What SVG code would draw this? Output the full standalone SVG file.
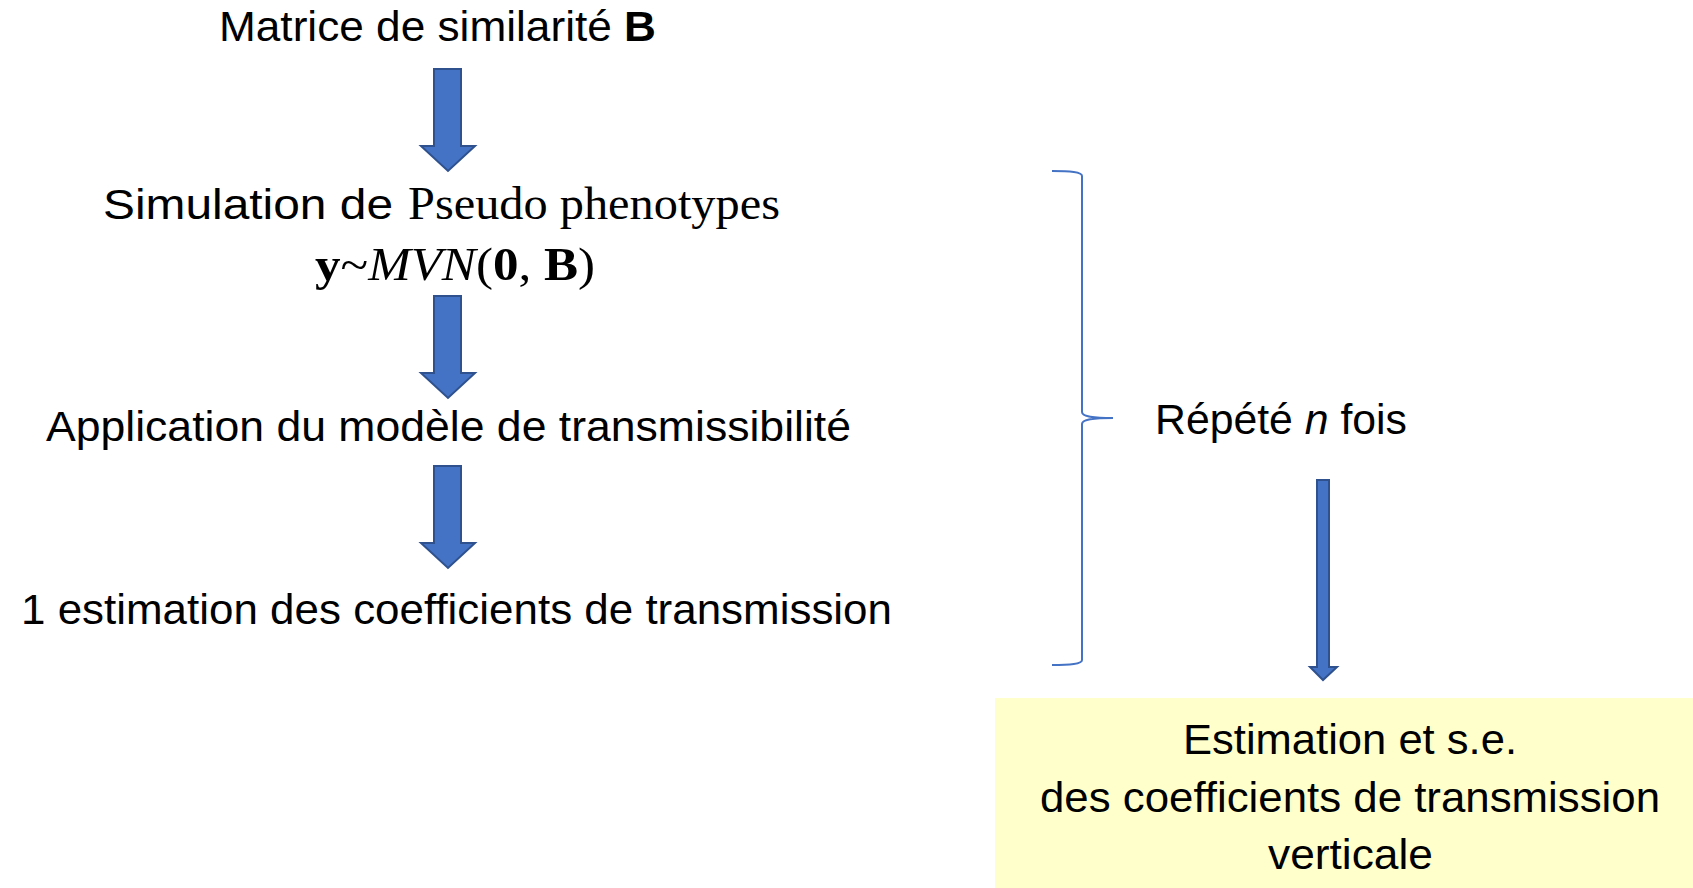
<svg xmlns="http://www.w3.org/2000/svg" width="1693" height="888" viewBox="0 0 1693 888">
<style>
.t{font-family:"Liberation Sans",Arial,sans-serif;font-size:43px;fill:#000}
.m{font-family:"Liberation Serif","Times New Roman",serif;font-size:47px;fill:#000}
.arr{fill:#4472C4;stroke:#2F528F;stroke-width:2}
.brace{fill:none;stroke:#4472C4;stroke-width:2}
</style>
<rect width="1693" height="888" fill="#fff"/>
<g id="n1"><text class="t" x="219" y="41" textLength="437" lengthAdjust="spacingAndGlyphs">Matrice de similarité <tspan font-weight="bold">B</tspan></text></g>
<g id="n2">
<text class="t" x="103" y="219" textLength="290" lengthAdjust="spacingAndGlyphs">Simulation de</text>
<text class="m" x="408" y="219" textLength="372" lengthAdjust="spacingAndGlyphs">Pseudo phenotypes</text>
<text class="m" x="315" y="280" textLength="280" lengthAdjust="spacingAndGlyphs"><tspan font-weight="bold">y</tspan>~<tspan font-style="italic">MVN</tspan>(<tspan font-weight="bold">0</tspan>, <tspan font-weight="bold">B</tspan>)</text>
</g>
<g id="n3"><text class="t" x="46" y="441" textLength="805" lengthAdjust="spacingAndGlyphs">Application du modèle de transmissibilité</text></g>
<g id="n4"><text class="t" x="21" y="624" textLength="871" lengthAdjust="spacingAndGlyphs">1 estimation des coefficients de transmission</text></g>
<g id="n5"><text class="t" x="1155" y="434" textLength="252" lengthAdjust="spacingAndGlyphs">Répété <tspan font-style="italic">n</tspan> fois</text></g>
<g id="n6">
<rect x="995" y="698" width="698" height="190" fill="#FFFFCC"/>
<text class="t" x="1183" y="754" textLength="334" lengthAdjust="spacingAndGlyphs">Estimation et s.e.</text>
<text class="t" x="1040" y="812" textLength="620" lengthAdjust="spacingAndGlyphs">des coefficients de transmission</text>
<text class="t" x="1268" y="869" textLength="165" lengthAdjust="spacingAndGlyphs">verticale</text>
</g>
<g id="connectors">
<path class="arr" d="M434,69 H461 V146 H475 L448,171 L421,146 H434 Z"/>
<path class="arr" d="M434,296 H461 V373 H475 L448,398 L421,373 H434 Z"/>
<path class="arr" d="M434,466 H461 V543 H475 L448,568 L421,543 H434 Z"/>
<path class="arr" d="M1317,480 H1329 V667 H1337 L1323,680 L1310,667 H1317 Z"/>
<path class="brace" d="M1052,171 C1070,171 1082,172 1082,176 V412 C1082,416 1090,418 1113,418 C1090,418 1082,420 1082,424 V660 C1082,664 1070,665 1052,665"/>
</g>
</svg>
